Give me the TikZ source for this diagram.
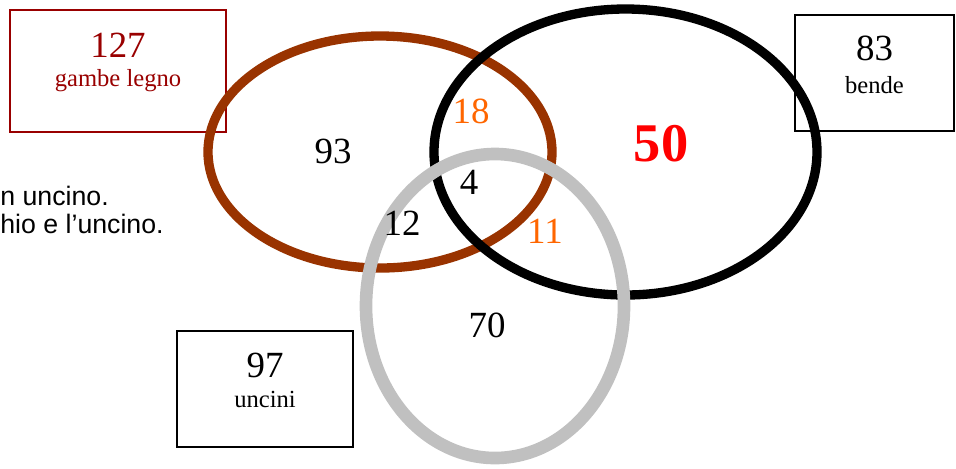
\documentclass[tikz,border=0pt]{standalone}
\usepackage{fontspec}
\setmainfont{Liberation Serif}
\setsansfont{Liberation Sans}
\definecolor{ringbrown}{HTML}{993300}
\definecolor{ringgrey}{HTML}{C0C0C0}
\definecolor{legnored}{HTML}{990000}
\definecolor{numorange}{HTML}{FF6600}

\begin{document}
\begin{tikzpicture}[x=0.02cm,y=-0.02cm,
    num/.style={inner sep=0pt,font=\fontsize{21}{23}\selectfont},
    word/.style={inner sep=0pt,anchor=base,font=\fontsize{14}{16}\selectfont},
    note/.style={inner sep=0pt,anchor=base west,font=\sffamily\fontsize{15.2}{17}\selectfont},
    box/.style={draw,line width=0.8pt,inner sep=0pt}]
    \useasboundingbox (0,0) rectangle (956,468);

    \node[box,draw=legnored,minimum width=4.32cm,minimum height=2.44cm] (legnobox) at (118,71) {};
    \node[box,minimum width=3.18cm,minimum height=2.32cm] (bendebox) at (874.5,73) {};
    \node[box,minimum width=3.52cm,minimum height=2.32cm] (uncinibox) at (265,389) {};

    \node[num,anchor=base,text=legnored] (legnonum) at (118,57) {127};
    \node[word,text=legnored] (legnoword) at (118,86) {gambe legno};
    \node[num,anchor=base] (bendenum) at (874.5,60) {83};
    \node[word] (bendeword) at (874.5,93) {bende};
    \node[num,anchor=base] (uncininum) at (265,377) {97};
    \node[word] (uncinword) at (265,407) {uncini};

    \node[note] (noteone) at (0,205) {n uncino.};
    \node[note] (notetwo) at (0,233) {hio e l’uncino.};

    \draw[ringbrown,line width=5.3pt] (380,152) ellipse [x radius=172,y radius=116];
    \draw[black,line width=5.3pt] (625.5,152) ellipse [x radius=191.5,y radius=143];
    \draw[ringgrey,line width=7.2pt] (495,306) ellipse [x radius=129,y radius=152];

    \foreach \nm/\px/\py/\val/\col in {onlylegno/333/151/93/black,
        legnobende/471/111/18/numorange, allthree/469/182/4/black,
        legnouncini/402/223/12/black, bendeuncini/545/231/11/numorange,
        onlyuncini/487/325/70/black} {
        \node[num,text=\col] (\nm) at (\px,\py) {\val};
    }
    \node[num,text=red,font=\bfseries\fontsize{31}{34}\selectfont] (onlybende) at (661,144) {50};
\end{tikzpicture}
\end{document}
